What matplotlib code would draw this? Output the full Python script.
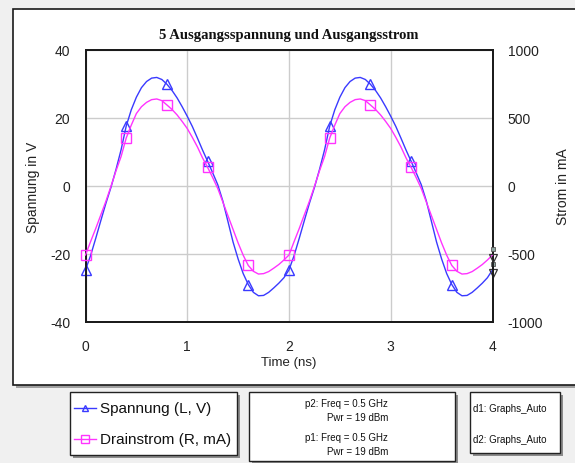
import numpy as np
import matplotlib
matplotlib.use("Agg")
import matplotlib.pyplot as plt
from matplotlib.patches import Rectangle
from matplotlib.lines import Line2D
import matplotlib.transforms as mtransforms

# ---- data -------------------------------------------------------------
time_ns = np.linspace(0.0, 4.0, 81)

spannung_v = [
    -24.7, -20.5, -15.5, -10.3, -5.2, -0.5, 4.8, 10.6, 17.5, 22.3,
    26.0, 28.8, 30.6, 31.6, 31.8, 31.2, 29.8, 28.0, 25.8, 23.2,
    20.4, 17.4, 14.0, 10.5, 7.2, 3.8, 0.3, -4.5, -10.5, -16.5,
    -21.5, -25.8, -29.0, -31.3, -32.3, -32.2, -31.3, -30.0, -28.6, -27.0,
    -24.7, -20.5, -15.5, -10.3, -5.2, -0.5, 4.8, 10.6, 17.5, 22.3,
    26.0, 28.8, 30.6, 31.6, 31.8, 31.2, 29.8, 28.0, 25.8, 23.2,
    20.4, 17.4, 14.0, 10.5, 7.2, 3.8, 0.3, -4.5, -10.5, -16.5,
    -21.5, -25.8, -29.0, -31.3, -32.3, -32.2, -31.3, -30.0, -28.6, -27.0,
    -24.7,
]

drainstrom_ma = [
    -508, -410, -315, -215, -115, -5, 110, 215, 350, 445,
    530, 580, 612, 632, 637, 625, 593, 560, 520, 472,
    420, 355, 285, 205, 135, 60, -20, -120, -220, -320,
    -420, -510, -585, -628, -648, -645, -630, -605, -578, -545,
    -508, -410, -315, -215, -115, -5, 110, 215, 350, 445,
    530, 580, 612, 632, 637, 625, 593, 560, 520, 472,
    420, 355, 285, 205, 135, 60, -20, -120, -220, -320,
    -420, -510, -585, -628, -648, -645, -630, -605, -578, -545,
    -508,
]

x_ticks = [0, 1, 2, 3, 4]
left_ticks = [-40, -20, 0, 20, 40]
right_ticks = [-1000, -500, 0, 500, 1000]

title = "5 Ausgangsspannung und Ausgangsstrom"
series_names = ["Spannung (L, V)", "Drainstrom (R, mA)"]
marker_info = ["p2: Freq = 0.5 GHz", "Pwr = 19 dBm", "p1: Freq = 0.5 GHz", "Pwr = 19 dBm"]
data_info = ["d1: Graphs_Auto", "d2: Graphs_Auto"]

# ---- styling ----------------------------------------------------------
W, H = 575, 464
BLUE = "#3a3aff"
MAGENTA = "#ff33ff"
GRID = "#cccccc"
plt.rcParams["font.family"] = ["Liberation Sans", "DejaVu Sans"]
plt.rcParams["axes.unicode_minus"] = False


def fx(px):
    return px / W


def fy(py):
    return 1 - py / H


fig = plt.figure(figsize=(W / 100, H / 100), dpi=100)
fig.patch.set_facecolor("#f0f0f0")

# graph window with a drop shadow, running off the right edge
fig.patches.append(Rectangle((fx(16), fy(389)), fx(600), fy(13) - fy(389),
                             transform=fig.transFigure, facecolor="#a0a0a0",
                             edgecolor="none", zorder=-3))
fig.patches.append(Rectangle((fx(13), fy(386)), fx(600), fy(10) - fy(386),
                             transform=fig.transFigure, facecolor="white",
                             edgecolor="#1a1a1a", linewidth=1.2, zorder=-2))

# ---- main axes --------------------------------------------------------
ax = fig.add_axes([fx(85.5), fy(323), fx(492.5) - fx(85.5), fy(50.5) - fy(323)])
ax.set_zorder(1)
ax.set_facecolor("white")
ax2 = ax.twinx()
ax2.set_zorder(2)

ax.set_xlim(0, 4)
ax.set_ylim(-40, 40)
ax2.set_ylim(-1000, 1000)
ax.set_xticks(x_ticks)
ax.set_yticks(left_ticks)
ax2.set_yticks(right_ticks)
ax.grid(True, color=GRID, linewidth=1.0)
ax.set_axisbelow(True)

for a in (ax, ax2):
    for s in a.spines.values():
        s.set_color("#1a1a1a")
        s.set_linewidth(1.3)
ax.tick_params(axis="both", length=0, labelsize=10, colors="#222222")
ax.tick_params(axis="y", pad=11)
ax.tick_params(axis="x", pad=12)
ax2.tick_params(axis="y", length=0, labelsize=10, colors="#222222", pad=11)

mark_idx = list(range(0, 80, 8))
ax.plot(time_ns, spannung_v, color=BLUE, linewidth=1.0, marker="^",
        markevery=mark_idx, markersize=6.5, markerfacecolor="none",
        markeredgecolor=BLUE, markeredgewidth=1.0, clip_on=False, zorder=3)
ax2.plot(time_ns, drainstrom_ma, color=MAGENTA, linewidth=1.0, marker="s",
         markevery=mark_idx, markersize=7, markerfacecolor="none",
         markeredgecolor=MAGENTA, markeredgewidth=1.0, clip_on=False, zorder=3)

# end-of-trace markers
for a, vals in ((ax, spannung_v), (ax2, drainstrom_ma)):
    tr_dn = mtransforms.offset_copy(a.transData, fig=fig, x=0, y=-2, units="points")
    tr_up = mtransforms.offset_copy(a.transData, fig=fig, x=0, y=4, units="points")
    a.plot([time_ns[-1]], [vals[-1]], marker="v", markersize=5.5,
           markerfacecolor="none", markeredgecolor="#333333",
           markeredgewidth=0.9, transform=tr_dn, clip_on=False, zorder=4)
    a.plot([time_ns[-1]], [vals[-1]], marker="s", markersize=3.5,
           markerfacecolor="#8fa6a0", markeredgecolor="#555555",
           markeredgewidth=0.6, transform=tr_up, clip_on=False, zorder=4)

# titles and axis labels
fig.text(fx(289), fy(35), title, ha="center", va="center",
         fontsize=10.5, fontweight="bold",
         family=["Liberation Serif", "DejaVu Serif"], color="#111111")
fig.text(fx(289), fy(363), "Time (ns)", ha="center", va="center",
         fontsize=9.5, color="#222222")
fig.text(fx(33), fy(187), "Spannung in V", ha="center", va="center",
         rotation=90, fontsize=10, color="#222222")
fig.text(fx(563), fy(187), "Strom in mA", ha="center", va="center",
         rotation=90, fontsize=10, color="#222222")


# ---- boxes below the graph -------------------------------------------
def box(x0, y0, x1, y1):
    fig.patches.append(Rectangle((fx(x0 + 3), fy(y1 + 3)), fx(x1) - fx(x0),
                                 fy(y0) - fy(y1), transform=fig.transFigure,
                                 facecolor="#8c8c8c", edgecolor="none", zorder=-1))
    fig.patches.append(Rectangle((fx(x0), fy(y1)), fx(x1) - fx(x0),
                                 fy(y0) - fy(y1), transform=fig.transFigure,
                                 facecolor="white", edgecolor="#222222",
                                 linewidth=1.0, zorder=-1))


box(70, 393, 237, 456)
box(249, 393, 455, 462)
box(470, 393, 560, 454)

for ypix, name, color, mk, ms in ((409, series_names[0], BLUE, "^", 4.5),
                                  (440, series_names[1], MAGENTA, "s", 5.5)):
    fig.lines.append(Line2D([fx(74), fx(96)], [fy(ypix), fy(ypix)],
                            transform=fig.transFigure, color=color,
                            linewidth=1.0, zorder=3))
    fig.lines.append(Line2D([fx(85)], [fy(ypix)], transform=fig.transFigure,
                            marker=mk, markersize=ms, markerfacecolor="none",
                            markeredgecolor=color, markeredgewidth=1.0, zorder=3))
    fig.text(fx(100), fy(ypix), name, ha="left", va="center",
             fontsize=11, color="#111111", zorder=4)

for ypix, txt in zip((404, 418, 438, 452), marker_info):
    fig.text(fx(388), fy(ypix), txt, ha="right", va="center",
             fontsize=7, color="#111111", zorder=4)

for ypix, txt in zip((409, 440), data_info):
    fig.text(fx(473), fy(ypix), txt, ha="left", va="center",
             fontsize=7, color="#111111", zorder=4)

fig.savefig("out.png", dpi=100, facecolor=fig.get_facecolor())
